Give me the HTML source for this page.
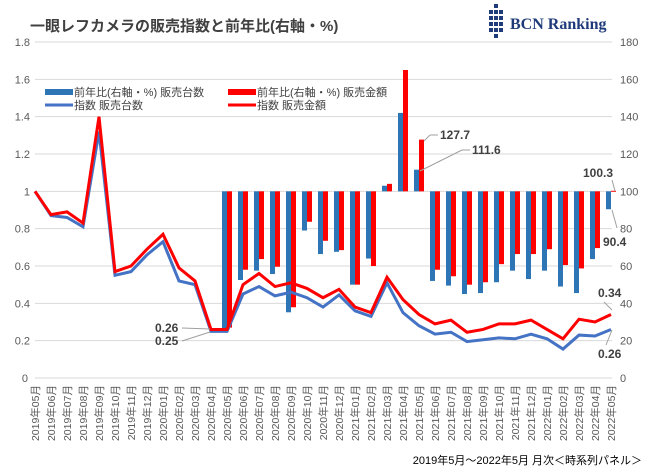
<!DOCTYPE html><html><head><meta charset="utf-8"><style>
body{margin:0;background:#fff}
text{font-family:"Liberation Sans","Noto Sans CJK JP",sans-serif}
</style></head><body>
<svg width="650" height="470" xmlns="http://www.w3.org/2000/svg" id="s">
<rect width="650" height="470" fill="#fff"/>
<text x="30" y="31" font-size="15" font-weight="bold" fill="#404040">一眼レフカメラの販売指数と前年比(右軸・%)</text>
<g fill="#1f3b7a">
<rect x="494" y="4" width="4" height="4"/>
<rect x="489" y="10" width="4" height="4"/><rect x="494" y="10" width="4" height="4"/><rect x="499" y="10" width="4" height="4"/>
<rect x="489" y="16" width="4" height="4"/><rect x="494" y="16" width="4" height="4"/><rect x="499" y="16" width="4" height="4"/>
<rect x="489" y="22" width="4" height="4"/><rect x="494" y="22" width="4" height="4"/><rect x="499" y="22" width="4" height="4"/>
<rect x="489" y="28" width="4" height="4"/><rect x="494" y="28" width="4" height="4"/><rect x="499" y="28" width="4" height="4"/>
<rect x="494" y="34" width="4" height="4"/>
</g>
<text x="510" y="29" font-size="16" font-weight="bold" fill="#1f3b7a" font-family="Liberation Serif,serif" style="font-family:'Liberation Serif',serif">BCN Ranking</text>
<g id="g"></g>
</svg>
<script>
const s=document.getElementById('g');let h='';
const X=i=>35+16*i, YL=v=>378-v*186.67, YR=v=>378-v*1.8667;
for(let k=0;k<=9;k++){const y=YL(k*0.2);h+=`<line x1="35" x2="612" y1="${y}" y2="${y}" stroke="#d9d9d9" stroke-width="1"/>`;
h+=`<text x="${k==0?28:30}" y="${y+4}" font-size="11" fill="#595959" text-anchor="end">${k==0?'0':k==5?'1':(k*0.2).toFixed(1)}</text>`;
h+=`<text x="620" y="${y+4}" font-size="11" fill="#595959">${k*20}</text>`;}
const bb=[26,52.5,57.5,55.7,35.2,79,66.4,67.6,50,64,103,142,111.6,52,49.5,45,45.5,51.3,57.5,53,57.5,49,45.5,63.7,90.4];
const rb=[27,58,63.7,59.6,37.9,83.7,73.5,68.5,50,60,104,165,127.7,58,54.5,50,51.3,61,66.4,66.4,69,60.5,58.7,69.6,100.3];
bb.forEach((v,j)=>{const i=j+12,x=X(i);const y1=YR(Math.max(v,100)),y2=YR(Math.min(v,100));
h+=`<rect x="${x-5}" y="${y1}" width="5" height="${y2-y1}" fill="#2e75b6"/>`;
const r=rb[j],a=YR(Math.max(r,100)),b=YR(Math.min(r,100));h+=`<rect x="${x}" y="${a}" width="5" height="${Math.max(b-a,1)}" fill="#ff0000"/>`;});
const bl=[1,0.87,0.86,0.81,1.32,0.55,0.57,0.66,0.73,0.52,0.5,0.25,0.25,0.45,0.49,0.44,0.46,0.43,0.38,0.445,0.36,0.33,0.51,0.35,0.28,0.235,0.245,0.195,0.205,0.215,0.21,0.235,0.21,0.155,0.23,0.225,0.26];
const rl=[1,0.875,0.89,0.83,1.4,0.57,0.6,0.69,0.77,0.59,0.52,0.26,0.26,0.5,0.56,0.49,0.51,0.48,0.43,0.475,0.38,0.35,0.54,0.42,0.34,0.29,0.31,0.245,0.26,0.29,0.29,0.31,0.26,0.21,0.315,0.3,0.34];
h+=`<polyline fill="none" stroke="#4472c4" stroke-width="3" points="${bl.map((v,i)=>X(i)+','+YL(v)).join(' ')}"/>`;
h+=`<polyline fill="none" stroke="#ff0000" stroke-width="3" points="${rl.map((v,i)=>X(i)+','+YL(v)).join(' ')}"/>`;
const m=['05','06','07','08','09','10','11','12'];
for(let i=0;i<37;i++){const mo=(4+i)%12+1,yr=2019+Math.floor((4+i)/12);const lab=`${yr}年${String(mo).padStart(2,'0')}月`;
h+=`<text transform="translate(${X(i)+4},385) rotate(-90)" font-size="10.5" fill="#595959" text-anchor="end">${lab}</text>`;}
h+=`<rect x="45" y="89" width="28" height="6" fill="#2e75b6"/><text x="74" y="96" font-size="11" fill="#404040">前年比(右軸・%) 販売台数</text>`;
h+=`<rect x="228" y="89" width="28" height="6" fill="#ff0000"/><text x="257" y="96" font-size="11" fill="#404040">前年比(右軸・%) 販売金額</text>`;
h+=`<line x1="45" x2="73" y1="105" y2="105" stroke="#4472c4" stroke-width="3"/><text x="74" y="109" font-size="11" fill="#404040">指数 販売台数</text>`;
h+=`<line x1="228" x2="256" y1="105" y2="105" stroke="#ff0000" stroke-width="3"/><text x="257" y="109" font-size="11" fill="#404040">指数 販売金額</text>`;
const L=(x,y,t)=>`<text x="${x}" y="${y}" font-size="12" font-weight="bold" fill="#404040">${t}</text>`;
h+=`<line x1="424" y1="141" x2="430" y2="135" stroke="#a0a0a0"/><line x1="430" y1="135" x2="438" y2="135" stroke="#a0a0a0"/>`+L(440,139,'127.7');
h+=`<line x1="420" y1="171" x2="462" y2="150" stroke="#a0a0a0"/><line x1="462" y1="150" x2="470" y2="150" stroke="#a0a0a0"/>`+L(472,154,'111.6');
h+=`<line x1="615" y1="191" x2="612" y2="180" stroke="#a0a0a0"/>`+L(583,177,'100.3');
h+=`<line x1="612" y1="210" x2="617" y2="228" stroke="#a0a0a0"/>`+L(603,246,'90.4');
h+=L(598,297,'0.34')+L(598,358,'0.26');
h+=`<line x1="612" y1="330" x2="606" y2="345" stroke="#a0a0a0"/><line x1="612" y1="310" x2="604" y2="302" stroke="#a0a0a0"/>`;
h+=L(155,332,'0.26')+L(155,345,'0.25');
h+=`<line x1="182" y1="328" x2="210" y2="329" stroke="#a0a0a0"/><line x1="182" y1="341" x2="210" y2="332" stroke="#a0a0a0"/>`;
h+=`<text x="642" y="464" font-size="11" fill="#000" text-anchor="end">2019年5月～2022年5月 月次＜時系列パネル＞</text>`;
s.innerHTML=h;
</script></body></html>
